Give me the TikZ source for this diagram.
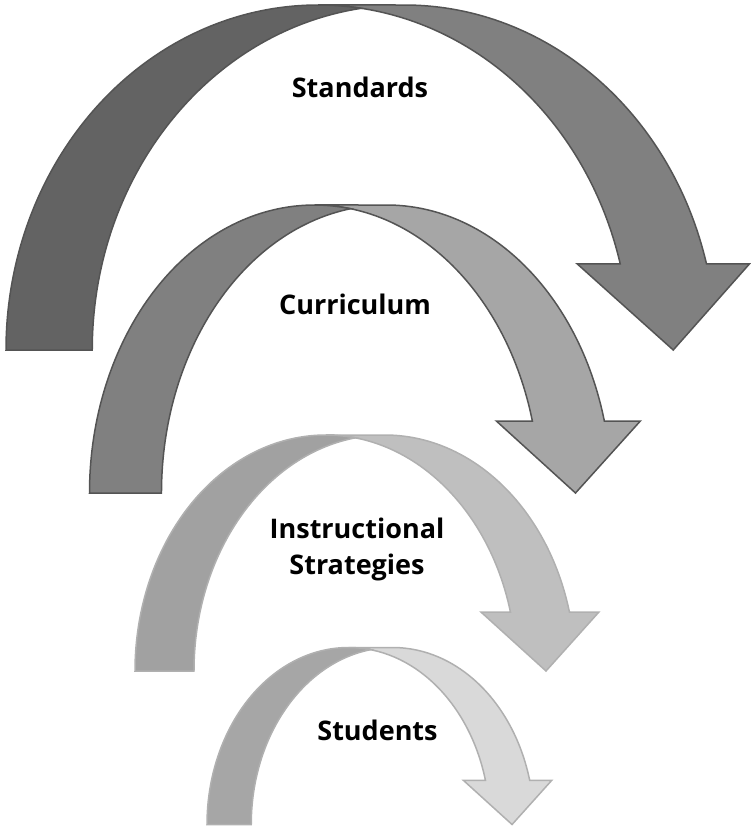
\documentclass[tikz,border=0pt]{standalone}
\usepackage{fontspec}
\setmainfont{Open Sans}[Ligatures=NoCommon]
\usetikzlibrary{calc}

%% arc shades, dark to light
\definecolor{shadeA}{gray}{0.39}
\definecolor{shadeB}{gray}{0.50}
\definecolor{shadeC}{gray}{0.63}
\definecolor{shadeD}{gray}{0.65}
\definecolor{shadeE}{gray}{0.75}
\definecolor{shadeF}{gray}{0.85}
\definecolor{rimdark}{gray}{0.33}
\definecolor{rimlight}{gray}{0.69}

\tikzset{
  label/.style={font=\bfseries\fontsize{27}{36}\selectfont, text=black, inner sep=0pt},
}

%% bent arrow: left x, bottom y, height, width, back fill, front fill, rim
\newcommand{\bentarrow}[7]{%
  \pgfmathsetmacro{\thk}{#3/4}
  \pgfmathsetmacro{\wr}{#4/2-3*#3/16}
  \pgfmathsetmacro{\cinn}{#1+\wr}
  \pgfmathsetmacro{\cout}{#1+\wr+\thk}
  \pgfmathsetmacro{\baseang}{asin(0.25)}
  \pgfmathsetmacro{\xoff}{\wr*cos(\baseang)}
  \pgfmathsetmacro{\crossang}{acos(\thk/(2*\wr))}
  %% front part with the head
  \draw[line width=1.5pt, fill=#6, draw=#7]
    (#1+#4-\thk, -#2) -- (\cinn+\xoff-#3/8, -#2+\thk) -- (\cinn+\xoff, -#2+\thk)
    arc[start angle=\baseang, end angle=90, x radius=\wr pt, y radius=#3 pt]
    -- (\cout, -#2+#3)
    arc[start angle=90, end angle=\baseang, x radius=\wr pt, y radius=#3 pt]
    -- (\cout+\xoff+#3/8, -#2+\thk) -- cycle;
  %% back part
  \draw[line width=1.5pt, fill=#5, draw=#7]
    (#1, -#2)
    arc[start angle=180, end angle=\crossang, x radius=\wr pt, y radius=#3 pt]
    arc[start angle=180-\crossang, end angle=180, x radius=\wr pt, y radius=#3 pt]
    -- cycle;
}

\begin{document}
\begin{tikzpicture}[x=1pt,y=1pt]
    \useasboundingbox (0,0) rectangle (750,-830);
    %% arrows, top to bottom
    \bentarrow{6}{350}{345}{753.5}{shadeA}{shadeB}{rimdark}
    \bentarrow{89.5}{493}{288}{558}{shadeB}{shadeD}{rimdark}
    \bentarrow{135}{671}{236}{470}{shadeC}{shadeE}{rimlight}
    \bentarrow{207}{824.5}{177}{349.3}{shadeD}{shadeF}{rimlight}
    %% labels
    \node[label, anchor=base] (standards) at (360,-97) {Standards};
    \node[label, anchor=base] (curriculum) at (355,-314) {Curriculum};
    \node[label, align=center] (strategies) at (357,-549) {Instructional\\Strategies};
    \node[label, anchor=base] (students) at (377.5,-740) {Students};
\end{tikzpicture}
\end{document}
